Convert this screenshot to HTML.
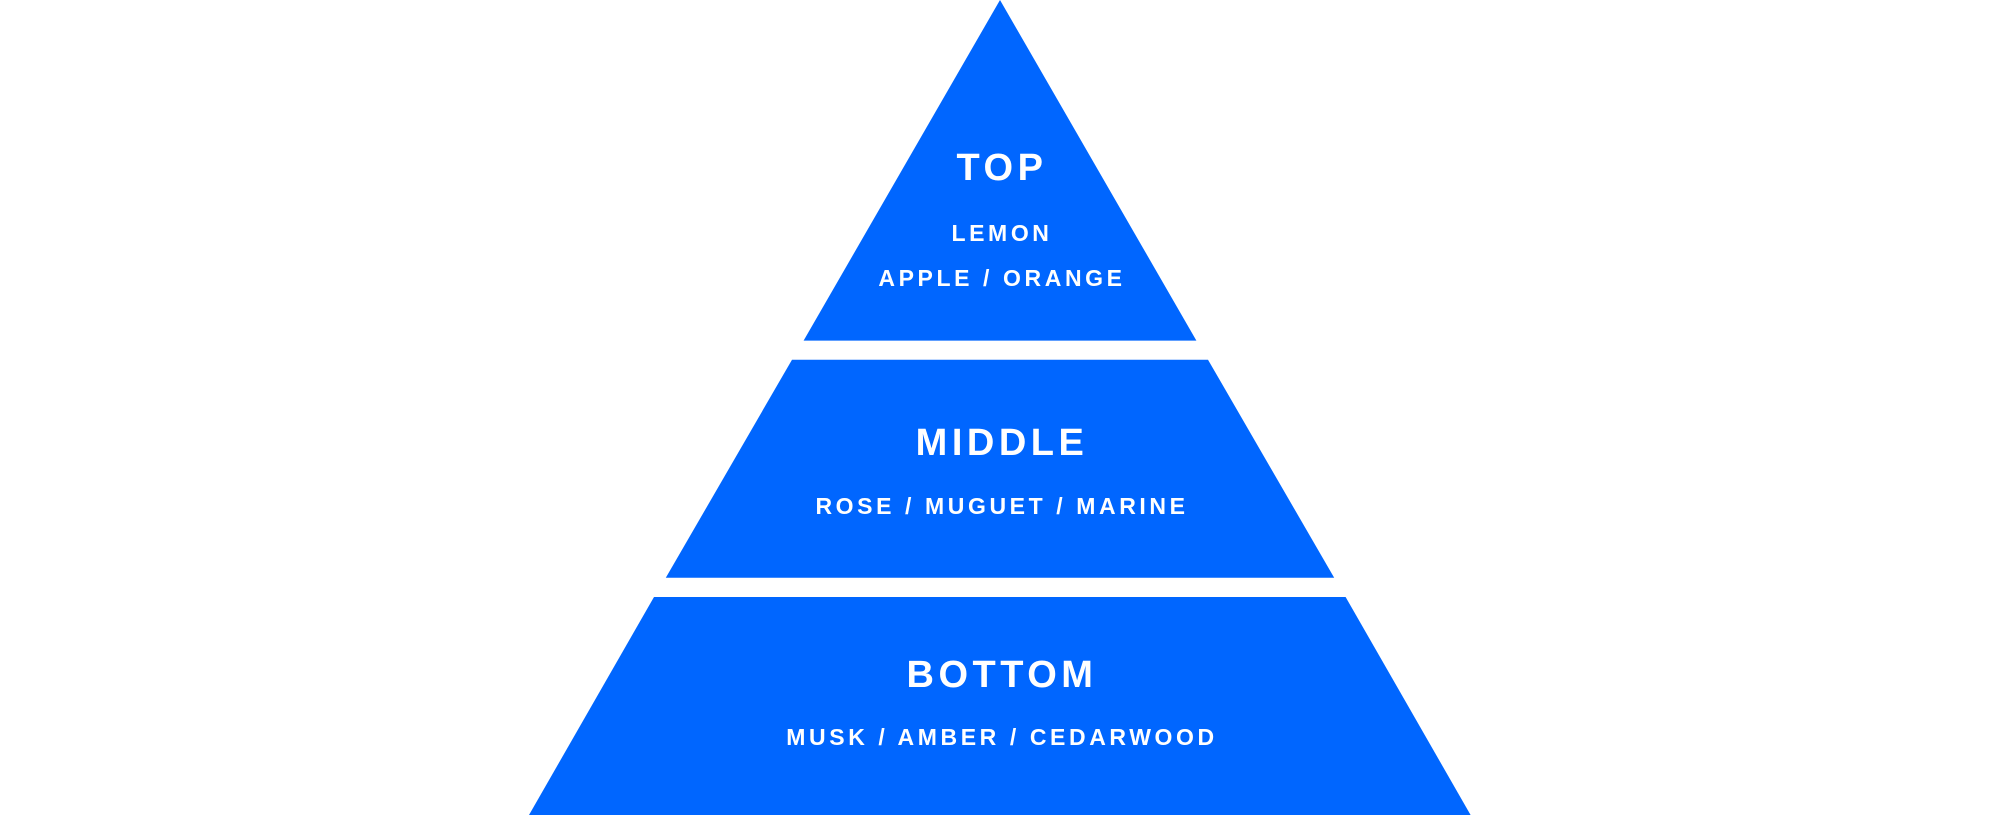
<!DOCTYPE html>
<html><head><meta charset="utf-8"><style>
html,body{margin:0;padding:0;background:#fff;width:2000px;height:815px;overflow:hidden}
svg{display:block}
text{font-family:"Liberation Sans",sans-serif;fill:#fff;text-anchor:middle;dominant-baseline:central;font-weight:bold}
.h{font-size:38px;letter-spacing:4.5px}
.s{font-size:23px;letter-spacing:3.6px}
</style></head><body>
<svg width="2000" height="815" viewBox="0 0 2000 815">
<g fill="#0066FF">
<polygon points="1000,0 1196.4,340.6 803.6,340.6"/>
<polygon points="792,359.7 1208,359.7 1334.2,577.8 665.8,577.8"/>
<polygon points="654,597 1345.6,597 1470.6,815 529,815"/>
</g>
<text class="h" x="1002" y="168">TOP</text>
<text class="s" x="1002" y="233">LEMON</text>
<text class="s" x="1002" y="278">APPLE / ORANGE</text>
<text class="h" x="1002" y="443">MIDDLE</text>
<text class="s" x="1002" y="506">ROSE / MUGUET / MARINE</text>
<text class="h" x="1002" y="675">BOTTOM</text>
<text class="s" x="1002" y="737">MUSK / AMBER / CEDARWOOD</text>
</svg>
</body></html>
